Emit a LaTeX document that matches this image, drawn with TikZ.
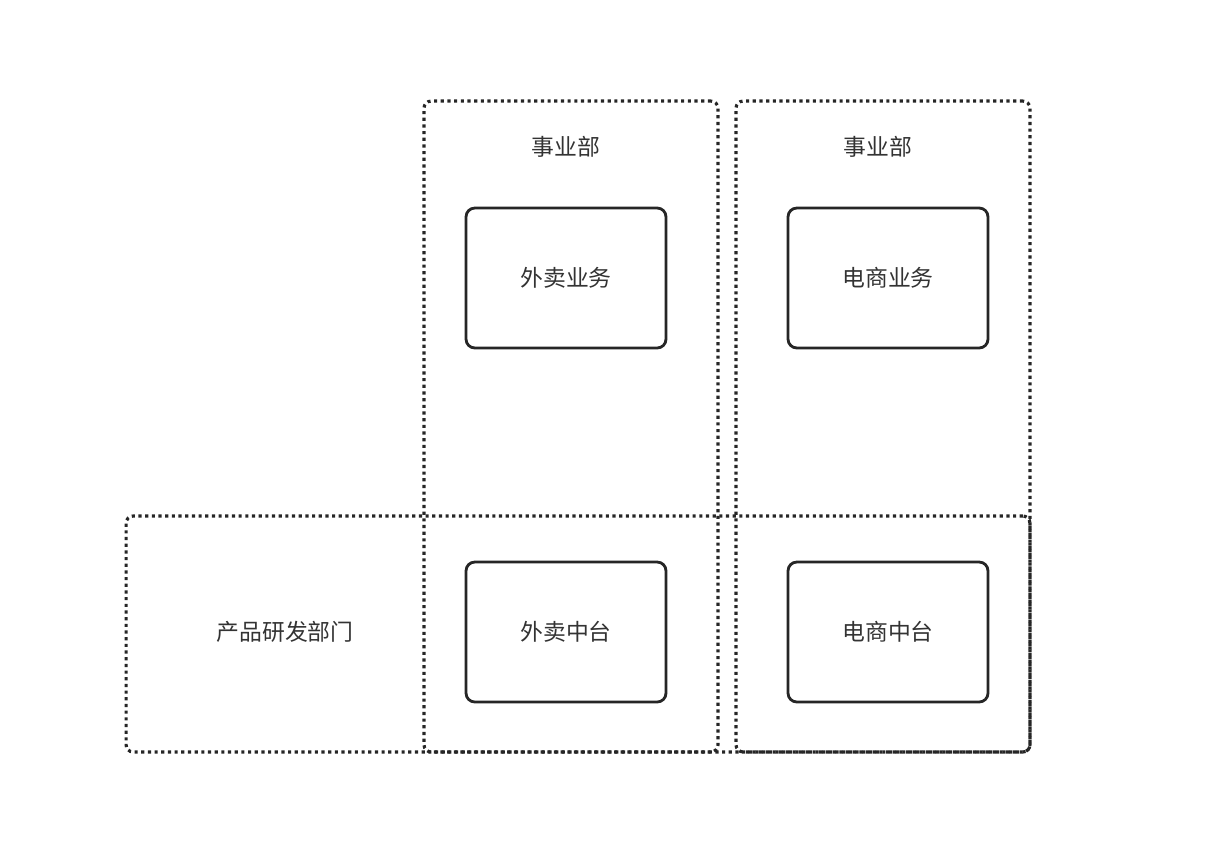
\documentclass[tikz,border=0pt]{standalone}
\usepackage{fontspec}
\newfontfamily\cjk{Noto Sans CJK SC}
\usetikzlibrary{positioning}
\tikzset{
  group/.style={draw=black!85,dotted,line width=1.8pt,rounded corners=4pt,inner sep=0pt},
  unit/.style={draw=black!85,line width=1.6pt,rounded corners=5pt,minimum width=4cm,minimum height=2.8cm,font=\cjk\fontsize{13}{15}\selectfont,text=black!80},
  label/.style={font=\cjk\fontsize{13}{15}\selectfont,text=black!80}
}
\begin{document}
\begin{tikzpicture}[x=0.02cm,y=-0.02cm]
\useasboundingbox (0,0) rectangle (1230,866);
\node[group,minimum width=18.08cm,minimum height=4.72cm] (dept) at (578,634) {};
\node[group,minimum width=5.88cm,minimum height=13.02cm] (bu1) at (571,426.5) {};
\node[group,minimum width=5.88cm,minimum height=13.02cm] (bu2) at (883,426.5) {};
\node[label] (t1) at (566,147) {事业部};
\node[label] (t2) at (878,147) {事业部};
\node[label] (tdept) at (285,632) {产品研发部门};
\node[unit] (waimai) at (566,278) {外卖业务};
\node[unit] (dianshang) at (888,278) {电商业务};
\node[unit] (waimaizt) at (566,632) {外卖中台};
\node[unit] (dianshangzt) at (888,632) {电商中台};
\end{tikzpicture}
\end{document}
